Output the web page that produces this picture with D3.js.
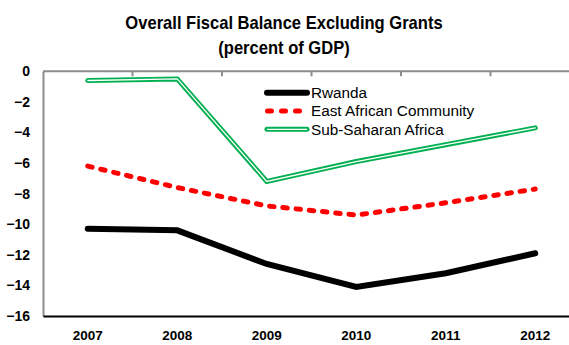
<!DOCTYPE html>
<html>
<head>
<meta charset="utf-8">
<script src="https://cdn.jsdelivr.net/npm/d3@7/dist/d3.min.js"></script>
<style>
  html, body { margin: 0; padding: 0; background: #fff; }
  svg { display: block; font-family: "Liberation Sans", Arial, sans-serif; }
</style>
</head>
<body>
<svg id="chart" width="569" height="345"></svg>
<script>
// Fiscal balance excluding grants, percent of GDP
const years = ["2007", "2008", "2009", "2010", "2011", "2012"];
const rwanda = [-10.3, -10.4, -12.6, -14.1, -13.2, -11.9];
const eac = [-6.2, -7.6, -8.8, -9.4, -8.6, -7.7];
const ssa = [-0.6, -0.5, -7.2, -5.9, -4.8, -3.7];
const yTicks = [0, -2, -4, -6, -8, -10, -12, -14, -16];
const seriesNames = ["Rwanda", "East African Community", "Sub-Saharan Africa"];

const svg = d3.select("#chart");
const plotLeft = 43, plotTop = 71.3, plotBottom = 316, plotRight = 580;

const x = d3.scaleBand().domain(years).range([plotLeft, plotRight]);
const y = d3.scaleLinear().domain([-16, 0]).range([plotBottom, plotTop]);

// Title (slightly condensed bold face)
const title = svg.append("text")
  .attr("transform", "translate(284,0) scale(0.92,1)")
  .attr("text-anchor", "middle")
  .attr("font-weight", "bold").attr("font-size", 18).attr("fill", "#000");
title.append("tspan").attr("x", 0).attr("y", 29).text("Overall Fiscal Balance Excluding Grants");
title.append("tspan").attr("x", 0).attr("y", 54).text("(percent of GDP)");

// Frame: gray top border with category ticks
svg.append("line").attr("x1", plotLeft).attr("x2", 569).attr("y1", plotTop).attr("y2", plotTop)
  .attr("stroke", "#8c8c8c").attr("stroke-width", 2);
svg.selectAll("line.cat").data(years.slice(1)).enter().append("line")
  .attr("class", "cat")
  .attr("x1", d => x(d)).attr("x2", d => x(d))
  .attr("y1", plotTop).attr("y2", plotTop + 5)
  .attr("stroke", "#8c8c8c").attr("stroke-width", 2);

// Y axis
const yAxis = svg.append("g")
  .attr("transform", `translate(${plotLeft},0)`)
  .call(d3.axisLeft(y).tickValues(yTicks).tickSize(0).tickPadding(13).tickFormat(d3.format("d")));
yAxis.select(".domain").attr("stroke", "#8c8c8c").attr("stroke-width", 2);
yAxis.selectAll("text")
  .attr("font-family", "Liberation Sans, Arial, sans-serif")
  .attr("font-size", 14).attr("font-weight", "bold").attr("fill", "#000");

// X axis at the bottom
const xAxis = svg.append("g")
  .attr("transform", `translate(0,${plotBottom})`)
  .call(d3.axisBottom(x).tickSize(0).tickPadding(14));
xAxis.select(".domain").attr("stroke", "#000").attr("stroke-width", 2);
xAxis.selectAll("text")
  .attr("font-family", "Liberation Sans, Arial, sans-serif")
  .attr("font-size", 13.5).attr("font-weight", "bold").attr("fill", "#000");

const cx = d => x(d) + x.bandwidth() / 2;
const line = vals => d3.line().x((d, i) => cx(years[i])).y(d => y(d))(vals);

// Sub-Saharan Africa: green double line
svg.append("path").attr("d", line(ssa)).attr("fill", "none")
  .attr("stroke", "#00b050").attr("stroke-width", 5)
  .attr("stroke-linejoin", "miter").attr("stroke-linecap", "round");
svg.append("path").attr("d", line(ssa)).attr("fill", "none")
  .attr("stroke", "#fff").attr("stroke-width", 1.3)
  .attr("stroke-linejoin", "miter").attr("stroke-linecap", "round");

// East African Community: red dashed
svg.append("path").attr("d", line(eac)).attr("fill", "none")
  .attr("stroke", "#ff0000").attr("stroke-width", 5)
  .attr("stroke-dasharray", "4.5,8.8").attr("stroke-linecap", "round");

// Rwanda: thick black
svg.append("path").attr("d", line(rwanda)).attr("fill", "none")
  .attr("stroke", "#000").attr("stroke-width", 6)
  .attr("stroke-linejoin", "miter").attr("stroke-linecap", "round");

// Legend
const lg = svg.append("g").attr("transform", "translate(265,92.7)");
const rowH = 18.3;
seriesNames.forEach((name, i) => {
  const g = lg.append("g").attr("transform", `translate(0,${i * rowH})`);
  if (i === 0) {
    g.append("line").attr("x1", 2).attr("x2", 42).attr("y1", 0).attr("y2", 0)
      .attr("stroke", "#000").attr("stroke-width", 6).attr("stroke-linecap", "round");
  } else if (i === 1) {
    g.append("line").attr("x1", 2.5).attr("x2", 42).attr("y1", 0).attr("y2", 0)
      .attr("stroke", "#ff0000").attr("stroke-width", 5)
      .attr("stroke-dasharray", "4,10").attr("stroke-linecap", "round");
  } else {
    g.append("line").attr("x1", 2).attr("x2", 42).attr("y1", 0).attr("y2", 0)
      .attr("stroke", "#00b050").attr("stroke-width", 5).attr("stroke-linecap", "round");
    g.append("line").attr("x1", 2).attr("x2", 42).attr("y1", 0).attr("y2", 0)
      .attr("stroke", "#fff").attr("stroke-width", 1.3);
  }
  g.append("text").attr("x", 46).attr("y", 0).attr("dy", "0.35em")
    .attr("font-size", 15.3).attr("fill", "#000").text(name);
});
</script>
</body>
</html>
